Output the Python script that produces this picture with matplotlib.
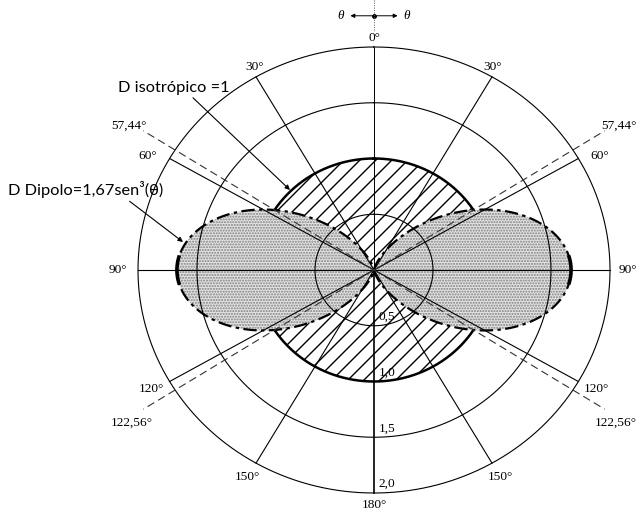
import numpy as np
import matplotlib.pyplot as plt

# directividad: isotrópica y dipolo D = 1,67 sen^3(theta)
D_iso = 1.0
D_dip = 1.67
theta = np.linspace(0, 2 * np.pi, 1441)

grid_r = [0.5, 1.5, 2.0]
radial_r = [0.5, 1.0, 1.5, 2.0]
radial_labels = ['0,5', '1,0', '1,5', '2,0']
spoke_deg = [30, 60, 120, 150]
spoke_labels = ['30°', '60°', '120°', '150°']
cross_deg = [57.44, 122.56]
cross_labels = ['57,44°', '122,56°']

serif = {'family': 'Liberation Serif', 'size': 9.6}
sans = {'family': 'Lato', 'size': 11.8}

# pixels per unit of directivity
SX, SY = 118, 111.5


def xy(r, deg):
    # angle measured from the vertical axis, positive to the right
    a = np.radians(deg)
    return r * np.sin(a), r * np.cos(a)


fig = plt.figure(figsize=(6.42, 5.12), dpi=100)
ax = fig.add_axes([0, 0, 1, 1])
ax.set_xlim(-374 / SX, 268 / SX)
ax.set_ylim(-242 / SY, 270 / SY)
ax.axis('off')

# isotropic pattern, hatched with 45 degree lines
iso_x, iso_y = D_iso * np.sin(theta), D_iso * np.cos(theta)
iso_patch = ax.fill(iso_x, iso_y, facecolor='white', lw=0, zorder=1)[0]
hx = np.array([-1.2, 1.2])
for c in np.arange(-300, 300, 16):
    ln, = ax.plot(hx, (hx * SX - c) / SY, color='black', lw=1.0, zorder=1.2)
    ln.set_clip_path(iso_patch)
ax.plot(iso_x, iso_y, color='black', lw=1.8, zorder=1.5)

# dipole lobes, stippled
r_dip = D_dip * np.abs(np.sin(theta)) ** 3
dip_x, dip_y = r_dip * np.sin(theta), r_dip * np.cos(theta)
ax.fill(dip_x, dip_y, facecolor='#e3e3e3', edgecolor='#808080', hatch='......', lw=0, zorder=2)
ax.plot(dip_x, dip_y, color='black', lw=1.6, ls=(0, (6, 2, 1.5, 2)), zorder=4)
for c in [90, 270]:
    t = np.radians(np.linspace(c - 4, c + 4, 30))
    r = D_dip * np.abs(np.sin(t)) ** 3
    ax.plot(r * np.sin(t), r * np.cos(t), color='black', lw=2.6, zorder=4)

# grid circles
for r in grid_r:
    ax.plot(r * np.sin(theta), r * np.cos(theta), color='black', lw=0.8, zorder=3)

# axes lines
ax.plot([0, 0], [0, 2.0], color='black', lw=0.7, zorder=5)
ax.plot([0, 0], [2.0, 2.45], color='#555555', lw=0.7, ls=(0, (1, 1.5)), zorder=5)
ax.plot([0, 0], [0, -2.0], color='black', lw=1.2, zorder=5)
ax.plot([-2.0, 2.0], [0, 0], color='black', lw=0.8, zorder=5)

# spokes
for a in spoke_deg:
    for s in (-1, 1):
        x, y = xy(2.0, s * a)
        ax.plot([0, x], [0, y], color='black', lw=0.8, zorder=5)

# crossing directions (dipole = isotropic)
for a in cross_deg:
    for s in (-1, 1):
        x, y = xy(2.32, s * a)
        ax.plot([0, x], [0, y], color='#333333', lw=0.8, ls=(0, (7, 4)), zorder=5)

# angle labels
ax.text(0, 2.08, '0°', ha='center', va='center', fontdict=serif, zorder=6,
        bbox=dict(facecolor='white', edgecolor='none', pad=1))
ax.text(0, -2.11, '180°', ha='center', va='center', fontdict=serif, zorder=6)
ax.text(-2.17, 0.0, '90°', ha='center', va='center', fontdict=serif, zorder=6)
ax.text(2.15, 0.0, '90°', ha='center', va='center', fontdict=serif, zorder=6)
label_pos = {30: (2.08, 29), 60: (2.17, 62), 120: (2.17, 119.5), 150: (2.14, 150)}
for a, lab in zip(spoke_deg, spoke_labels):
    r, d = label_pos[a]
    for s in (-1, 1):
        x, y = xy(r, s * d)
        ax.text(x, y, lab, ha='center', va='center', fontdict=serif, zorder=6)
cross_pos = {57.44: (2.45, 58.0), 122.56: (2.47, 123.8)}
for a, lab in zip(cross_deg, cross_labels):
    r, d = cross_pos[a]
    for s in (-1, 1):
        x, y = xy(r, s * d)
        ax.text(x, y, lab, ha='center', va='center', fontdict=serif, zorder=6)

# radial scale labels
for r, lab in zip(radial_r, radial_labels):
    ax.text(0.04, -r + 0.08, lab, ha='left', va='center', fontdict=serif, zorder=6)

# theta direction arrows
ax.plot([0], [2.28], 'o', color='black', ms=2.5)
for s in (-1, 1):
    ax.annotate('', xy=(s * 0.2, 2.28), xytext=(0, 2.28),
                arrowprops=dict(arrowstyle='-|>', color='black', lw=0.7,
                                mutation_scale=6, shrinkA=0, shrinkB=0))
    ax.text(s * 0.28, 2.28, 'θ', ha='center', va='center',
            fontdict={'family': 'Liberation Serif', 'size': 9.5, 'style': 'italic'})

# annotations
ax.annotate('D isotrópico =1', xy=((290 - 374) / SX, (270 - 190) / SY),
            xytext=((118 - 374) / SX, (270 - 88) / SY),
            ha='left', va='center', **sans, zorder=7,
            arrowprops=dict(arrowstyle='-|>', color='black', lw=0.8,
                            mutation_scale=7, shrinkA=0, shrinkB=0,
                            relpos=(0.62, 0.2)))
ax.annotate('D Dipolo=1,67sen³(θ)', xy=((183 - 374) / SX, (270 - 242) / SY),
            xytext=((8 - 374) / SX, (270 - 190) / SY),
            ha='left', va='center', **sans, zorder=7,
            arrowprops=dict(arrowstyle='-|>', color='black', lw=0.8,
                            mutation_scale=7, shrinkA=0, shrinkB=0,
                            relpos=(0.76, 0.0)))

fig.savefig('out.png', dpi=100)
